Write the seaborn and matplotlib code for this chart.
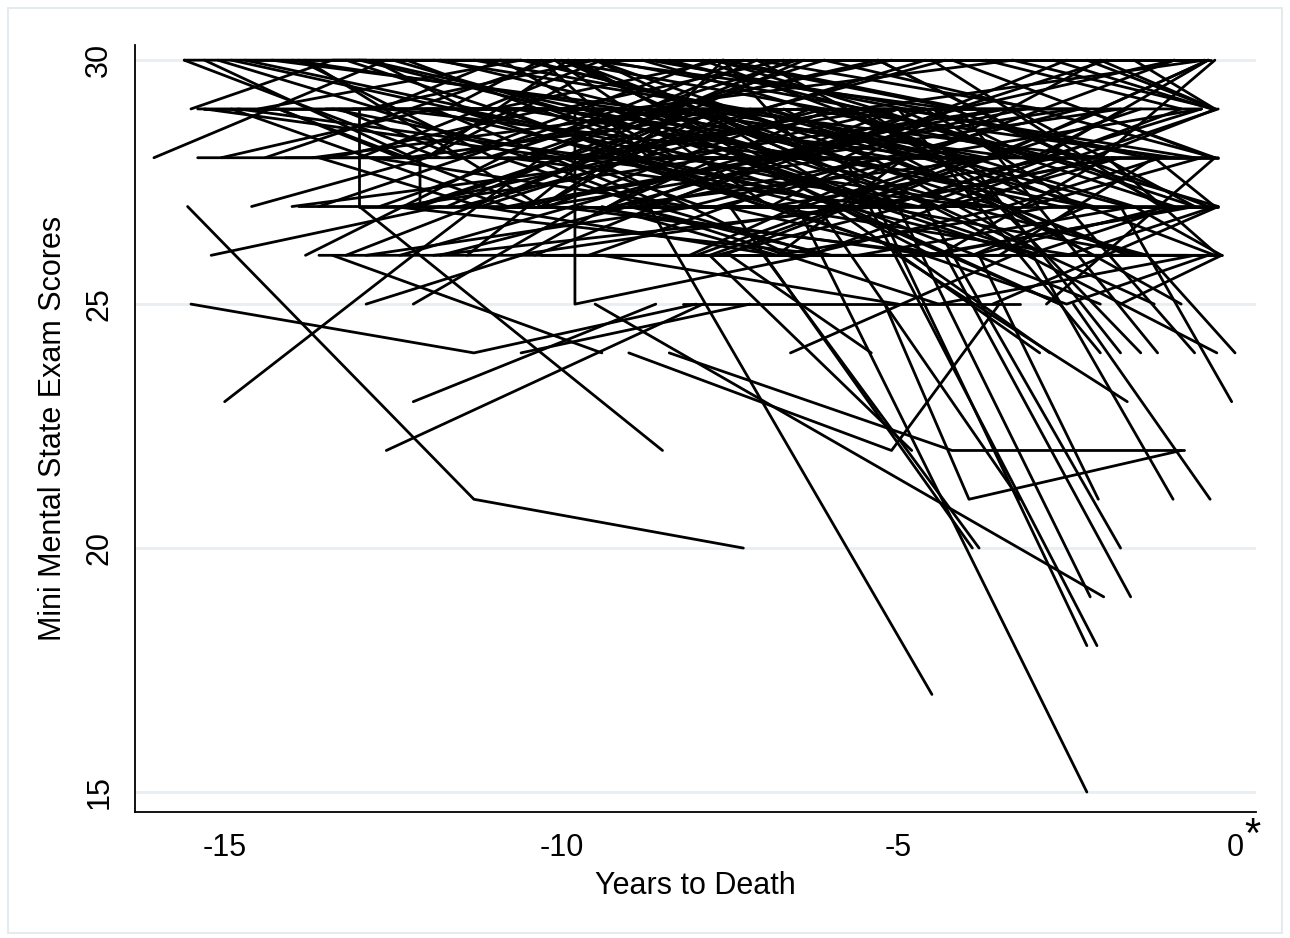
import matplotlib
matplotlib.use("Agg")
import matplotlib.pyplot as plt
from matplotlib.patches import Rectangle
import pandas as pd
import seaborn as sns

# MMSE trajectories per participant: years before death and score at each visit
years = [
    # lines reaching low scores
    [-15.55, -11.3, -7.3], [-15.5, -11.3, -8.0], [-15.0, -12.2, -10.3], [-12.6, -7.9],
    [-12.2, -8.6], [-13.0, -8.5], [-13.4, -9.4], [-9.0, -5.1, -3.5], [-8.4, -4.2, -0.75],
    [-5.2, -3.95, -0.8], [-6.6, -3.3], [-6.5, -2.2], [-8.7, -4.5], [-5.3, -2.2],
    [-5.8, -2.05], [-9.5, -1.95], [-5.0, -2.15], [-4.3, -1.55], [-7.5, -3.9],
    [-7.0, -3.8], [-4.6, -1.7], [-3.8, -2.03], [-3.0, -0.92], [-2.4, -0.37],
    [-1.7, -0.05], [-5.0, -1.6], [-5.0, -2.0], [-4.0, -1.7], [-3.5, -1.4],
    [-4.1, -1.15], [-2.5, -0.6], [-4.5, -0.27], [-1.3, 0.0], [-7.5, -5.4],
    [-6.0, -2.9], [-4.8, -2.75], [-10.6, -7.2], [-12.9, -10.6], [-12.2, -9.7],
    [-15.2, -11.8], [-15.3, -13.0, -13.0, -8.1], [-15.4, -12.1, -12.1, -7.8],
    [-13.5, -9.8, -9.8, -6.3], [-8.2, -3.2], [-8.3, -0.2], [-13.6, -8.1, -4.9],
    [-7.8, -4.8], [-6.2, -3.2],
    # early starters
    [-15.6, -12.9, -9.7], [-15.6, -11.8], [-15.5, -13.4, -10.6], [-15.4, -11.5, -7.9],
    [-16.05, -12.6], [-15.05, -11.9, -8.4], [-15.3, -12.2], [-14.9, -10.8, -6.9],
    [-14.7, -11.3], [-14.4, -10.1, -6.1], [-14.2, -10.4], [-13.9, -11.0, -7.3],
    [-14.6, -12.0, -9.2], [-13.8, -10.9], [-14.0, -9.1],
    [-14.8, -9.4, -4.6], [-14.3, -8.7, -3.2], [-15.3, -10.0], [-14.0, -8.5],
    [-14.9, -11.6, -8.3], [-14.5, -10.6, -7.5], [-14.1, -9.7, -6.4], [-13.8, -10.3, -7.7],
    [-14.6, -9.0], [-15.1, -12.7, -10.9], [-13.9, -10.6, -6.8], [-14.2, -12.4, -10.7],
    # middle-left starters
    [-13.6, -9.3], [-13.4, -10.2, -5.9], [-13.2, -8.8], [-12.9, -9.5, -5.4],
    [-12.8, -8.1], [-12.5, -10.0, -6.7], [-12.4, -7.7], [-12.1, -8.9, -4.7],
    [-11.9, -7.4], [-11.7, -8.5, -3.9], [-11.6, -6.8], [-11.3, -7.9, -4.3],
    [-11.1, -6.5], [-10.9, -8.3, -3.6], [-10.7, -6.2], [-10.4, -7.1, -2.9],
    [-10.3, -5.9], [-10.1, -6.9, -2.6], [-13.1, -9.0, -4.4], [-12.7, -7.5],
    [-11.4, -9.6, -5.2], [-10.6, -8.0], [-13.3, -11.5], [-12.0, -9.9, -7.0],
    [-11.0, -7.6, -4.0],
    [-13.7, -8.2], [-13.0, -7.1, -2.4], [-12.6, -6.4], [-12.3, -7.0, -1.6],
    [-11.8, -5.8], [-11.5, -6.1, -0.9], [-11.2, -5.5], [-10.8, -5.2, -0.5],
    [-10.5, -4.8], [-10.2, -4.4, -0.3], [-13.4, -9.8, -6.6], [-13.0, -9.4, -5.5],
    [-12.7, -8.6, -5.1], [-12.3, -8.4, -4.8], [-12.0, -8.2, -4.5], [-11.6, -7.8, -4.1],
    [-11.3, -7.3, -3.7], [-10.9, -7.0, -3.3], [-10.6, -6.7, -3.1], [-10.2, -6.3, -2.8],
    [-13.2, -7.6], [-12.4, -7.3], [-11.7, -6.6], [-11.0, -5.6], [-10.4, -5.0],
    [-13.6, -11.2, -8.9], [-12.8, -10.5, -8.3], [-12.2, -10.0, -7.9], [-11.5, -9.3, -7.2],
    [-10.9, -8.7, -6.5], [-10.3, -8.1, -5.9], [-13.1, -6.9], [-11.4, -4.9],
    [-12.5, -6.0], [-11.9, -5.3, -1.3], [-11.2, -6.8, -2.7], [-10.7, -5.7],
    [-10.1, -4.3, -0.7], [-12.9, -8.0], [-11.8, -9.0, -6.0], [-10.9, -6.4],
    [-10.0, -7.7, -4.9], [-12.3, -9.1, -6.2], [-10.5, -8.6, -6.1], [-11.0, -8.8, -7.4],
    [-10.0, -8.4, -6.8], [-12.8, -11.4, -9.9], [-11.7, -10.3, -8.7],
    # middle starters
    [-9.9, -5.6], [-9.7, -6.4, -1.9], [-9.5, -4.9], [-9.3, -6.0, -2.3], [-9.1, -5.1],
    [-8.9, -5.8, -1.4], [-8.7, -4.6], [-8.5, -5.3, -1.0], [-8.3, -4.3],
    [-8.1, -5.0, -0.6], [-9.8, -7.2, -3.4], [-9.6, -6.6], [-9.2, -4.1],
    [-8.8, -6.3, -2.1], [-8.6, -3.7], [-8.0, -5.5, -1.8], [-7.9, -4.0],
    [-7.7, -4.8, -0.9], [-7.5, -3.3], [-7.3, -4.5, -0.7], [-7.1, -3.1],
    [-6.9, -4.2, -0.5], [-6.7, -2.8], [-6.5, -3.6, -0.4], [-6.3, -2.5],
    [-6.1, -3.0, -0.3], [-5.9, -2.2], [-5.7, -2.7, -0.3], [-5.5, -1.9],
    [-5.3, -2.4, -0.25], [-5.1, -1.6], [-6.8, -4.9], [-7.6, -5.7, -2.0],
    [-9.0, -7.6], [-8.4, -6.1], [-7.0, -4.3], [-9.4, -5.0], [-8.9, -4.4],
    [-7.4, -2.6], [-6.0, -1.2], [-10.3, -4.6],
    [-9.9, -3.8], [-9.6, -4.2, -0.4], [-9.3, -3.5], [-9.0, -3.3, -0.3], [-8.7, -2.9],
    [-8.4, -2.7, -0.25], [-8.1, -2.3], [-7.8, -2.0, -0.3], [-9.9, -6.1, -2.6],
    [-9.5, -5.7, -2.2], [-9.2, -5.4, -1.8], [-8.9, -5.2, -1.5], [-8.6, -4.9, -1.1],
    [-8.2, -4.7, -0.8], [-9.7, -4.5], [-9.1, -3.9], [-8.5, -3.4], [-7.7, -3.0],
    [-7.2, -2.1], [-6.6, -1.7], [-9.7, -7.5, -5.3], [-9.1, -6.9, -4.7],
    [-8.5, -6.4, -4.1], [-7.9, -5.8, -3.5], [-7.3, -5.2, -2.9], [-6.7, -4.6, -2.3],
    [-6.1, -4.0, -1.7], [-5.5, -3.4, -1.1], [-9.8, -3.6], [-7.4, -0.4],
    [-9.6, -5.5], [-9.3, -4.6, -0.6], [-8.8, -3.6], [-8.3, -4.0, -1.3],
    [-7.8, -3.8], [-7.3, -2.9, -0.3], [-6.9, -2.4], [-6.4, -3.4, -0.8],
    [-5.9, -2.6], [-5.6, -1.5], [-9.4, -6.8, -3.7], [-7.6, -4.4, -1.9],
    [-6.8, -3.9, -1.0], [-5.3, -3.1, -0.9], [-9.0, -7.1, -5.0], [-8.0, -6.0, -3.9],
    [-8.8, -7.4, -5.9], [-7.6, -6.3, -4.6], [-6.5, -5.0, -3.3], [-5.8, -4.3, -2.5],
    # late starters
    [-4.9, -1.3], [-4.7, -2.0, -0.3], [-4.5, -1.1], [-4.3, -1.7, -0.25], [-4.1, -0.9],
    [-3.9, -1.5, -0.2], [-3.7, -0.8], [-3.5, -1.2, -0.3], [-3.3, -0.6], [-3.1, -0.5],
    [-2.9, -0.4], [-2.7, -0.35], [-2.5, -0.3], [-2.3, -0.3], [-2.1, -0.25],
    [-1.9, -0.25], [-1.7, -0.2], [-1.5, -0.3], [-3.6, -0.25], [-2.8, -0.3],
    [-4.4, -0.6], [-2.0, -0.4], [-5.6, -0.45], [-6.2, -0.35], [-4.0, -0.28],
    [-5.4, -0.9], [-4.8, -0.5], [-4.2, -0.35], [-3.4, -0.3], [-2.6, -0.25],
    [-2.2, -0.3], [-4.9, -2.8, -0.6], [-4.6, -2.5, -0.4], [-3.9, -2.2, -0.3],
    [-4.5, -3.0, -1.6],
]

mmse = [
    [27, 21, 20], [25, 24, 25], [23, 26, 28], [22, 25],
    [23, 25], [27, 22], [26, 24], [24, 22, 25], [24, 22, 22],
    [25, 21, 22], [24, 26], [27, 15], [27, 17], [27, 18],
    [28, 18], [25, 19], [27, 19], [26, 19], [27, 20],
    [26, 20], [27, 20], [26, 21], [26, 21], [25, 21],
    [27, 23], [26, 23], [29, 24], [28, 24], [27, 24],
    [29, 24], [27, 24], [27, 24], [26, 24], [26, 24],
    [27, 24], [26, 24], [24, 25], [25, 26], [25, 27],
    [26, 27], [29, 29, 27, 27], [28, 28, 27, 29],
    [29, 29, 25, 26], [25, 25], [26, 26], [26, 26, 28],
    [26, 22], [27, 21],
    # early starters
    [30, 30, 29], [30, 28], [29, 30, 30], [29, 29, 28],
    [28, 30], [28, 29, 27], [30, 28], [29, 27, 28],
    [30, 29], [28, 30, 29], [29, 27], [30, 28, 30],
    [27, 28, 30], [26, 28], [30, 29],
    [29, 28, 30], [30, 29, 28], [29, 28], [27, 28],
    [30, 29, 28], [29, 30, 29], [28, 28, 30], [30, 27, 29],
    [30, 30], [30, 29, 30], [27, 27, 28], [29, 28, 29],
    # middle-left starters
    [27, 29], [28, 29, 27], [30, 28], [29, 30, 28],
    [28, 27], [30, 29, 30], [27, 28], [29, 28, 26],
    [30, 29], [28, 29, 28], [29, 27], [27, 29, 28],
    [28, 30], [30, 28, 27], [29, 28], [28, 30, 29],
    [27, 28], [30, 27, 28], [29, 29, 27], [30, 30],
    [26, 28, 29], [26, 28], [29, 28], [28, 30, 28],
    [29, 30, 29],
    [28, 29], [30, 28, 29], [29, 28], [28, 29, 27],
    [30, 28], [27, 29, 28], [29, 29], [28, 27, 29],
    [30, 28], [29, 28, 28], [29, 28, 28], [28, 30, 29],
    [27, 29, 30], [30, 28, 28], [29, 29, 27], [28, 30, 29],
    [30, 29, 28], [29, 27, 27], [28, 28, 29], [27, 29, 28],
    [26, 29], [26, 28], [27, 30], [28, 28], [26, 29],
    [28, 27, 28], [29, 28, 29], [27, 28, 27], [29, 29, 28],
    [28, 27, 28], [27, 29, 28], [30, 30], [30, 30],
    [27, 26], [26, 27, 26], [27, 26, 27], [26, 27],
    [27, 26, 26], [26, 27], [26, 27, 26], [27, 27],
    [26, 26, 27], [27, 28, 27], [28, 27, 26], [29, 28, 29],
    [30, 29, 29], [30, 29, 29], [29, 30, 28],
    # middle starters
    [28, 29], [29, 28, 30], [30, 27], [27, 29, 27], [29, 28],
    [28, 27, 29], [30, 29], [29, 30, 27], [27, 27],
    [28, 29, 28], [30, 28, 29], [28, 26], [27, 29],
    [30, 29, 26], [28, 28], [29, 27, 28], [30, 28],
    [27, 28, 30], [29, 29], [28, 26, 27], [30, 27],
    [27, 29, 29], [29, 26], [28, 28, 30], [26, 28],
    [30, 29, 28], [28, 27], [29, 27, 27], [27, 29],
    [30, 28, 29], [28, 26], [26, 28], [26, 27, 25],
    [28, 30], [29, 30], [29, 30], [26, 25], [27, 25],
    [28, 25], [28, 25], [26, 26],
    [28, 27], [30, 29, 27], [27, 28], [29, 30, 29], [28, 26],
    [30, 28, 27], [27, 29], [29, 28, 30], [30, 28, 27],
    [28, 29, 29], [29, 27, 28], [27, 28, 26], [30, 29, 28],
    [28, 27, 29], [27, 26], [29, 27], [28, 29], [30, 28],
    [29, 27], [28, 29], [29, 28, 27], [28, 29, 28],
    [27, 27, 28], [29, 28, 27], [28, 27, 28], [28, 29, 27],
    [27, 28, 28], [29, 27, 28], [30, 30], [30, 30],
    [26, 28], [28, 26, 27], [26, 26], [27, 27, 26],
    [26, 28], [28, 26, 26], [27, 26], [26, 27, 25],
    [27, 25], [26, 27], [27, 26, 26], [27, 26, 28],
    [26, 26, 27], [27, 26, 27], [27, 28, 27], [26, 27, 27],
    [29, 29, 28], [30, 28, 29], [29, 29, 28], [28, 29, 30],
    # late starters
    [29, 28], [28, 30, 29], [30, 27], [27, 28, 28], [29, 30],
    [28, 27, 26], [30, 29], [26, 28, 27], [29, 27], [27, 28],
    [28, 30], [30, 29], [26, 27], [29, 28], [27, 27],
    [28, 26], [25, 26], [30, 29], [25, 27], [25, 28],
    [25, 26], [29, 30], [29, 30], [30, 30], [27, 29],
    [29, 27], [28, 29], [30, 28], [27, 27], [28, 28],
    [30, 29], [28, 28, 27], [26, 25, 26], [26, 27, 26],
    [29, 28, 29],
]

y_ticks = [15, 20, 25, 30]
x_ticks = [-15, -10, -5, 0]

rows = []
for pid, (t, s) in enumerate(zip(years, mmse)):
    for a, b in zip(t, s):
        rows.append({"id": pid, "years": a, "mmse": b})
df = pd.DataFrame(rows)

sns.set_style("white")
plt.rcParams["font.family"] = ["Liberation Sans", "DejaVu Sans"]
plt.rcParams["text.color"] = "black"
plt.rcParams["axes.labelcolor"] = "black"
plt.rcParams["xtick.color"] = "black"
plt.rcParams["ytick.color"] = "black"

fig = plt.figure(figsize=(12.9, 9.38), dpi=100)
ax = fig.add_axes([0.1047, 0.1343, 0.8689, 0.8177])

sns.lineplot(data=df, x="years", y="mmse", units="id", estimator=None,
             sort=False, color="black", lw=2.0, ax=ax, legend=False)

ax.set_xlim(-16.33, 0.31)
ax.set_ylim(14.59, 30.31)
ax.set_xticks(x_ticks)
ax.set_yticks(y_ticks)
ax.set_xticklabels([str(v) for v in x_ticks], fontsize=22)
ax.set_yticklabels([str(v) for v in y_ticks], fontsize=22, rotation=90, va="center")
ax.yaxis.grid(True, color="#e8eef1", lw=2)
ax.xaxis.grid(False)
ax.set_axisbelow(True)

for side in ["top", "right"]:
    ax.spines[side].set_visible(False)
for side in ["left", "bottom"]:
    ax.spines[side].set_linewidth(1.3)
    ax.spines[side].set_color("black")
ax.tick_params(axis="both", direction="out", length=9, width=1.2, color="black", pad=6)

ax.set_xlabel("Years to Death", fontsize=22, labelpad=6)
ax.set_ylabel("Mini Mental State Exam Scores", fontsize=22, labelpad=12)

fig.text(1252 / 1290, 1 - 836 / 938, "*", fontsize=30, ha="center", va="center")
fig.patches.append(Rectangle((0.006, 0.005), 0.988, 0.987, transform=fig.transFigure,
                             fill=False, edgecolor="#e4eaee", lw=1.5))

fig.savefig("out.png", dpi=100)
